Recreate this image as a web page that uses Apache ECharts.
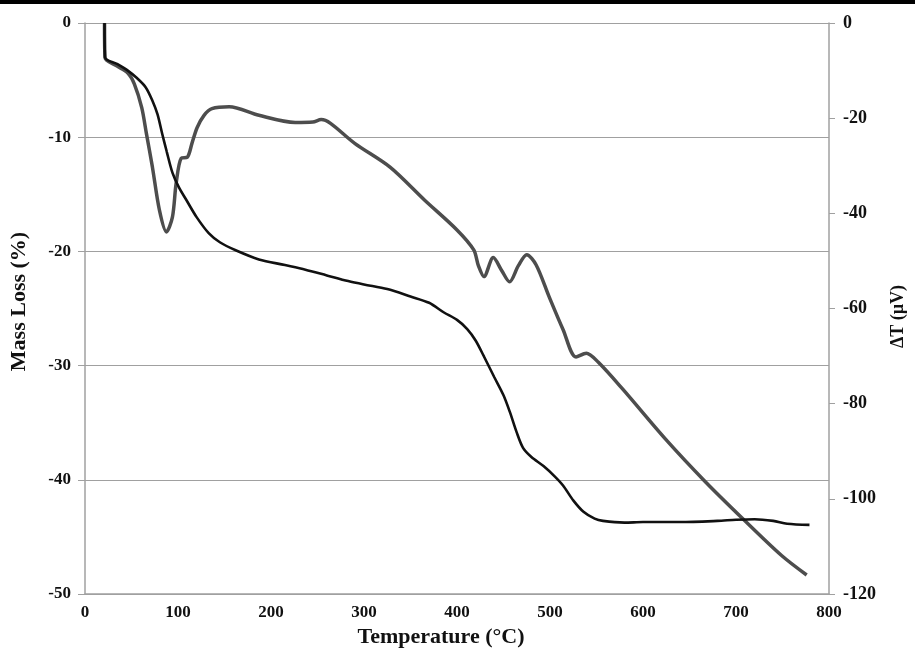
<!DOCTYPE html>
<html>
<head>
<meta charset="utf-8">
<script src="https://cdn.jsdelivr.net/npm/echarts@6/dist/echarts.min.js"></script>
<style>html,body{margin:0;padding:0;background:#fff;}#c{width:915px;height:656px;}</style>
</head>
<body>
<div id="c"></div>
<script>
// Temperature (°C) values and mass loss (%) – TG curve (left axis)
const tgTemp = [21,21.5,35,45,55.5,65,72.5,78,83,88,94,101,109,120,133,145,162,187,215,237,260,283,300,325,350,370,386,400,411,420,429,440,450,457,464,471,480,493,505,514,525,536,548,557,580,600,640,680,700,720,740,755,779];
const tgMass = [0,-3.0,-3.6,-4.1,-4.8,-5.6,-6.8,-8.0,-9.7,-11.3,-13.1,-14.4,-15.5,-17.0,-18.4,-19.2,-19.9,-20.7,-21.2,-21.6,-22.1,-22.6,-22.9,-23.3,-23.95,-24.5,-25.35,-26.0,-26.8,-27.8,-29.2,-31.0,-32.6,-34.1,-35.8,-37.2,-38.0,-38.8,-39.7,-40.5,-41.8,-42.8,-43.4,-43.6,-43.75,-43.7,-43.7,-43.6,-43.5,-43.45,-43.6,-43.85,-43.95];
// DTA curve (right axis), ΔT in µV
const dtaTemp = [21,21.5,34,46,53,61,66,72.5,80,87.5,94,98,103.5,110,115,120.5,128,136.5,155,187,226,245,254,264,290,328,365,400,418,423,429,439,448,456.5,466,475,485,499,514,528,539,552,578,624,667,709,749,776];
const dtaVal = [0,-7.3,-9.0,-10.5,-12.8,-17.8,-23.2,-30.3,-39.3,-43.9,-40.8,-33.7,-28.4,-28.2,-25.3,-22.0,-19.4,-18.0,-17.6,-19.4,-20.9,-20.8,-20.3,-21.1,-25.3,-30.3,-37.2,-43.5,-47.7,-51,-53.3,-49.3,-52,-54.4,-51,-48.7,-50.8,-57.5,-64.4,-70.2,-69.4,-71.3,-76.9,-87.4,-96.4,-104.5,-111.9,-116.0];

const xTicks = {min:0, max:800, interval:100};
const leftTicks = {min:-50, max:0, interval:10};
const rightTicks = {min:-120, max:0, interval:20};

const font = '"Liberation Serif", "Times New Roman", serif';
const tgData = tgTemp.map((t,i)=>[t, tgMass[i]]);
const dtaData = dtaTemp.map((t,i)=>[t, dtaVal[i]]);

const chart = echarts.init(document.getElementById('c'), null, {renderer:'canvas'});
chart.setOption({
  backgroundColor:'#fff',
  animation:false,
  graphic:[{type:'rect', shape:{x:0,y:0,width:915,height:4}, style:{fill:'#000'}}],
  grid:{left:84, right:78, top:23, bottom:62, containLabel:false},
  xAxis:{
    type:'value', min:xTicks.min, max:xTicks.max, interval:xTicks.interval,
    name:'Temperature (°C)', nameLocation:'middle', nameGap:32,
    nameTextStyle:{fontFamily:font, fontWeight:'bold', fontSize:22, color:'#111', padding:[0,32,0,0]},
    axisLine:{show:true, onZero:false, lineStyle:{color:'#a0a0a0', width:1.5}},
    axisTick:{show:false},
    splitLine:{show:false},
    axisLabel:{fontFamily:font, fontWeight:'bold', fontSize:17, color:'#111', margin:10}
  },
  yAxis:[{
    type:'value', min:leftTicks.min, max:leftTicks.max, interval:leftTicks.interval,
    name:'Mass Loss (%)', nameLocation:'middle', nameGap:55, nameRotate:90,
    nameTextStyle:{fontFamily:font, fontWeight:'bold', fontSize:22, color:'#111', padding:[0,0,0,14]},
    axisLine:{show:true, onZero:false, lineStyle:{color:'#a0a0a0', width:1.5}},
    axisTick:{show:true, length:7, lineStyle:{color:'#a0a0a0'}},
    splitLine:{show:true, lineStyle:{color:'#a0a0a0', width:1.2}},
    axisLabel:{fontFamily:font, fontWeight:'bold', fontSize:17, color:'#111', margin:14}
  },{
    type:'value', position:'right', min:rightTicks.min, max:rightTicks.max, interval:rightTicks.interval,
    name:'ΔT (µV)', nameLocation:'middle', nameGap:60, nameRotate:90,
    nameTextStyle:{fontFamily:font, fontWeight:'bold', fontSize:18, color:'#111', padding:[0,16,0,0]},
    axisLine:{show:true, onZero:false, lineStyle:{color:'#a0a0a0', width:1.5}},
    axisTick:{show:true, length:6, lineStyle:{color:'#a0a0a0'}},
    splitLine:{show:false},
    axisLabel:{fontFamily:font, fontWeight:'bold', fontSize:18, color:'#111', margin:14}
  }],
  series:[{
    type:'line', name:'DTA', yAxisIndex:1, data:dtaData, showSymbol:false, smooth:0.3,
    lineStyle:{color:'#4d4d4d', width:3.5}
  },{
    type:'line', name:'TG', yAxisIndex:0, data:tgData, showSymbol:false, smooth:0.3,
    lineStyle:{color:'#111', width:2.6}
  }]
});
</script>
</body>
</html>
